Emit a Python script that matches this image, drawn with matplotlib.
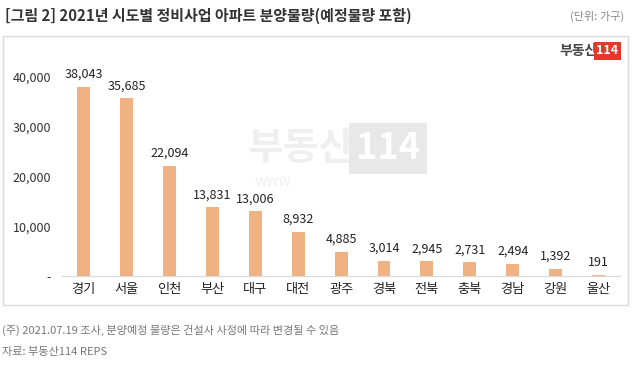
import matplotlib.pyplot as plt
from matplotlib.patches import Rectangle

plt.rcParams['font.family'] = ['Noto Sans CJK KR', 'DejaVu Sans']

regions = ['경기', '서울', '인천', '부산', '대구', '대전', '광주', '경북', '전북', '충북', '경남', '강원', '울산']
supply = [38043, 35685, 22094, 13831, 13006, 8932, 4885, 3014, 2945, 2731, 2494, 1392, 191]
yticks = [0, 10000, 20000, 30000, 40000]
ytick_labels = ['-', '10,000', '20,000', '30,000', '40,000']

fig = plt.figure(figsize=(6.34, 3.67), dpi=100)

# outer box
fig.patches.append(Rectangle((3/634, 1-305/367), 625/634, 269/367, transform=fig.transFigure,
                             fill=False, edgecolor='#d9d9d9', linewidth=1))

ax = fig.add_axes([0.098, 0.248, 0.88, 0.61])
x = range(len(regions))
ax.bar(x, supply, width=0.3, color='#F0B183', zorder=2)
for i, v in enumerate(supply):
    ax.text(i, v + 1200, f'{v:,}', ha='center', va='bottom', fontsize=9, color='#222222', zorder=3)

ax.set_xlim(-0.5, len(regions) - 0.5)
ax.set_ylim(0, 45000)
ax.set_yticks(yticks)
ax.set_yticklabels(ytick_labels, fontsize=9, color='#333333')
ax.set_xticks(list(x))
ax.set_xticklabels(regions, fontsize=9.5, color='#222222')
ax.tick_params(length=0, pad=8)
ax.tick_params(axis='x', pad=5)
for s in ['top', 'right', 'left']:
    ax.spines[s].set_visible(False)
ax.spines['bottom'].set_color('#d9d9d9')
ax.patch.set_alpha(0)

# watermark
fig.text(0.56, 0.595, '부동산', fontsize=28, fontweight='bold', color='#efefef', ha='right', va='center', zorder=0)
fig.text(0.612, 0.595, '114', fontsize=26, fontweight='bold', color='white', ha='center', va='center',
         bbox=dict(boxstyle='square,pad=0.2', facecolor='#e8e8e8', edgecolor='none'), zorder=0)
fig.text(0.43, 0.505, 'www', fontsize=11, color='#f0f0f0', ha='center', va='center', zorder=0)

# logo top right
fig.text(0.943, 0.862, '부동산', fontsize=10, fontweight='bold', color='#444444', ha='right', va='center')
fig.text(0.958, 0.862, '114', fontsize=9, fontweight='bold', color='white', ha='center', va='center',
         bbox=dict(boxstyle='square,pad=0.2', facecolor='#e03a2a', edgecolor='none'))

fig.text(0.008, 0.958, '[그림 2] 2021년 시도별 정비사업 아파트 분양물량(예정물량 포함)', fontsize=10.8,
         fontweight='bold', color='#333333', ha='left', va='center')
fig.text(0.985, 0.955, '(단위: 가구)', fontsize=8, color='#888888', ha='right', va='center')
fig.text(0.003, 0.1, '(주) 2021.07.19 조사, 분양예정 물량은 건설사 사정에 따라 변경될 수 있음', fontsize=8,
         color='#777777', ha='left', va='center')
fig.text(0.003, 0.04, '자료: 부동산114 REPS', fontsize=8, color='#777777', ha='left', va='center')

fig.savefig('out.png', dpi=100)
